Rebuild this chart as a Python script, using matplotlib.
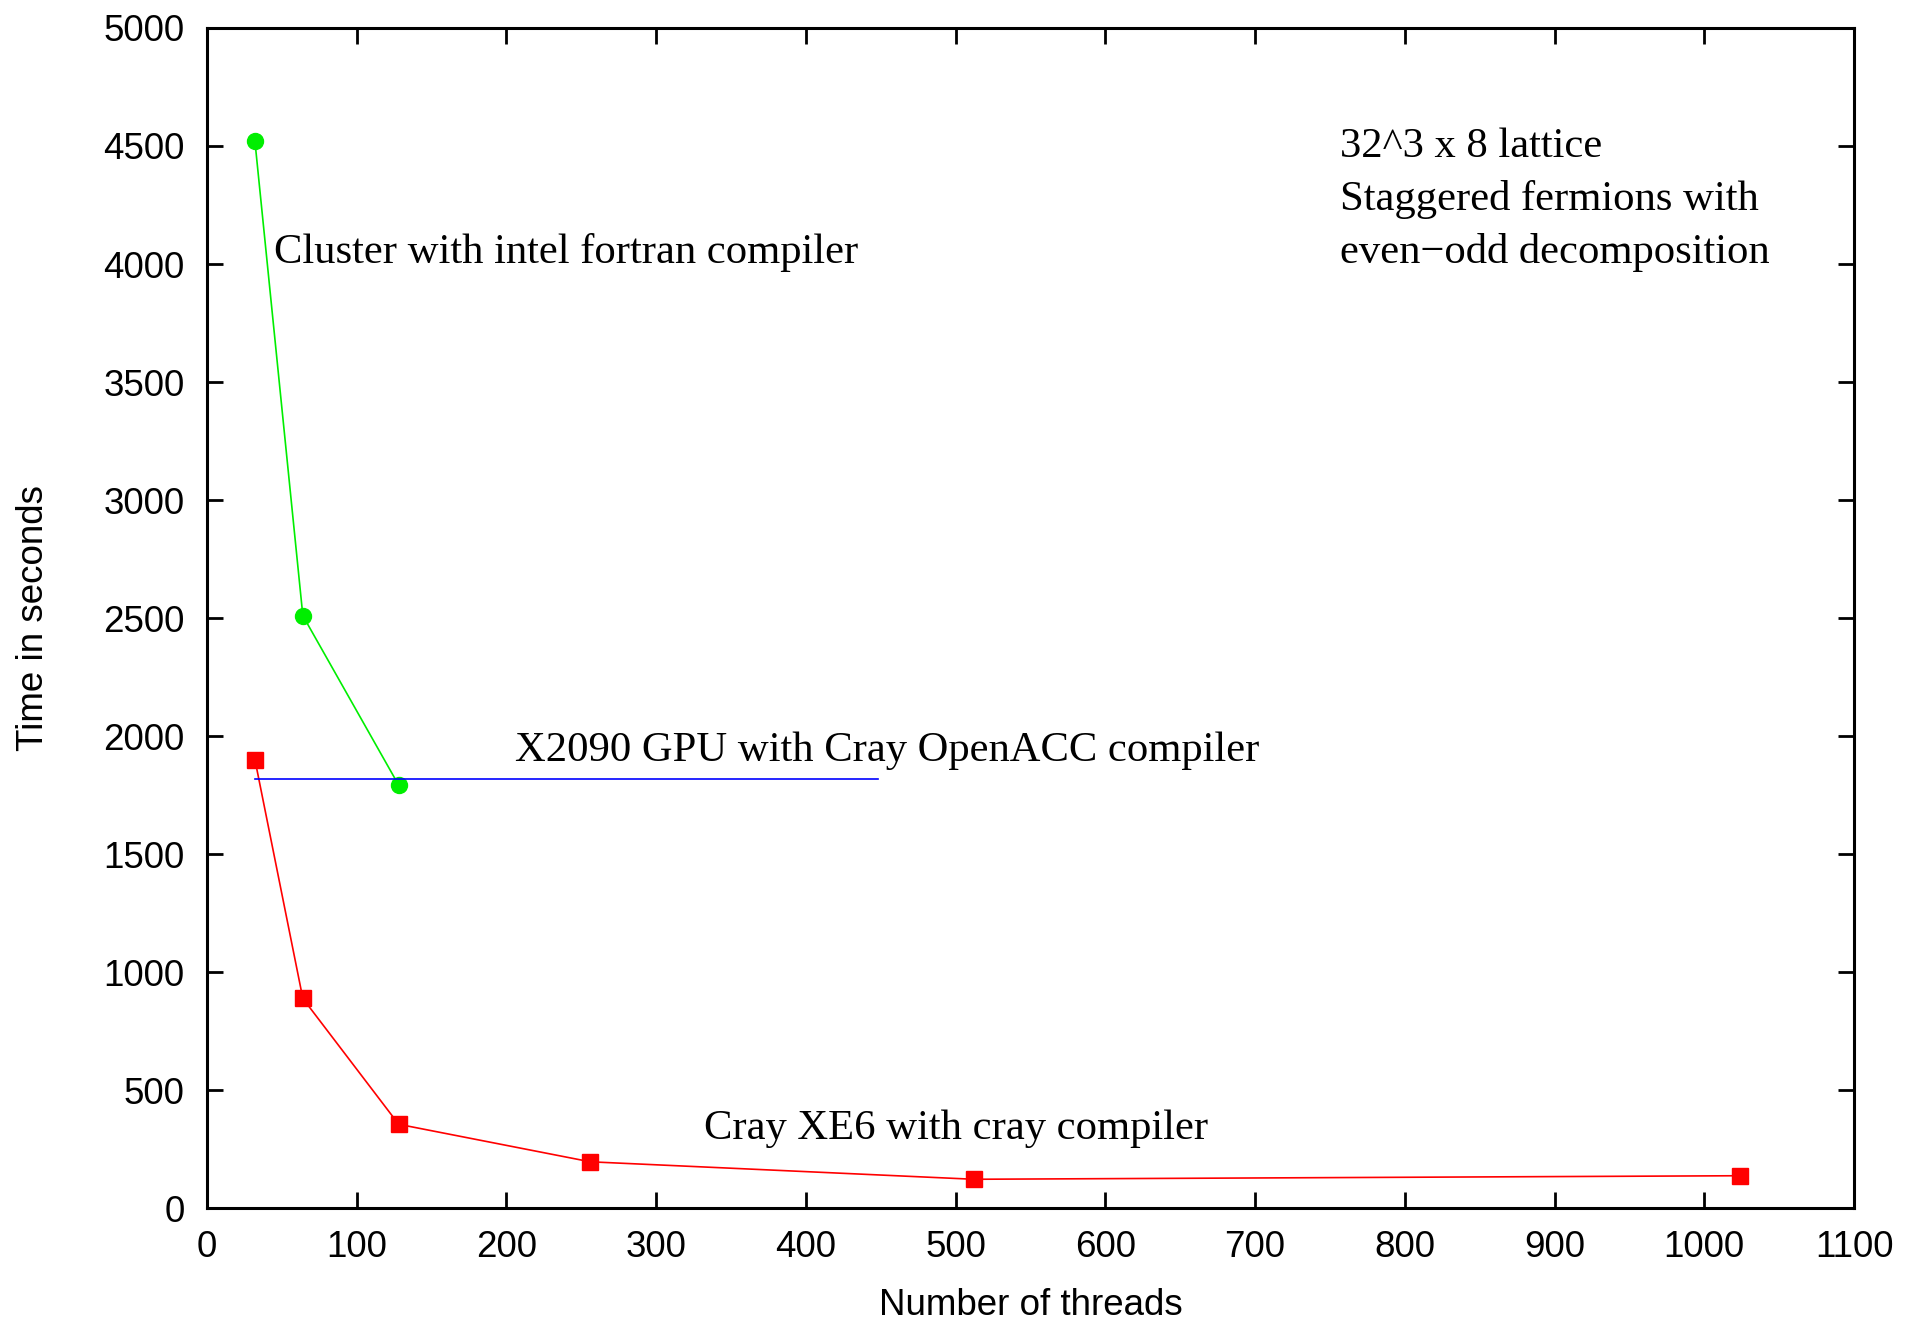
import matplotlib
matplotlib.use("Agg")
import matplotlib.pyplot as plt

# threads vs. time in seconds
cray_threads = [32, 64, 128, 256, 512, 1024]
cray_time = [1900, 888, 355, 196, 122, 137]

cluster_threads = [32, 64, 128]
cluster_time = [4520, 2510, 1792]

gpu_threads = [32, 448]
gpu_time = [1816, 1816]

xticks = list(range(0, 1101, 100))
yticks = list(range(0, 5001, 500))

info_lines = ["32^3 x 8 lattice", "Staggered fermions with",
              "even\u2212odd decomposition"]

SANS = "Liberation Sans"
SERIF = "Liberation Serif"

fig = plt.figure(figsize=(19.08, 13.2), dpi=100)
ax = fig.add_axes([0.1085, 0.0848, 0.8632, 0.894])

ax.plot(cluster_threads, cluster_time, color="#00ee00", lw=1.2, marker="o", ms=11.5)
ax.plot(cray_threads, cray_time, color="#ff0000", lw=1.2, marker="s", ms=12)
ax.plot(gpu_threads, gpu_time, color="#0000ff", lw=1.2)

ax.set_xlim(0, 1100)
ax.set_ylim(0, 5000)
ax.set_xticks(xticks)
ax.set_yticks(yticks)
ax.tick_params(direction="in", length=11.5, width=2, top=True, right=True,
               labelsize=26.5, pad=16)
for lab in ax.get_xticklabels() + ax.get_yticklabels():
    lab.set_fontfamily(SANS)
for sp in ax.spines.values():
    sp.set_linewidth(2.2)

ax.set_xlabel("Number of threads", fontsize=26.5, family=SANS, labelpad=16)
ax.set_ylabel("Time in seconds", fontsize=26.5, family=SANS, labelpad=38)

ax.text(45, 4050, "Cluster with intel fortran compiler", fontsize=30.7,
        family=SERIF, va="center", ha="left")
ax.text(206, 1938, "X2090 GPU with Cray OpenACC compiler", fontsize=30.7,
        family=SERIF, va="center", ha="left")
ax.text(332, 335, "Cray XE6 with cray compiler", fontsize=30.7,
        family=SERIF, va="center", ha="left")
for i, line in enumerate(info_lines):
    ax.text(757, 4495 - i * 223, line, fontsize=30.7, family=SERIF,
            va="center", ha="left")

fig.savefig("out.png", dpi=100)
